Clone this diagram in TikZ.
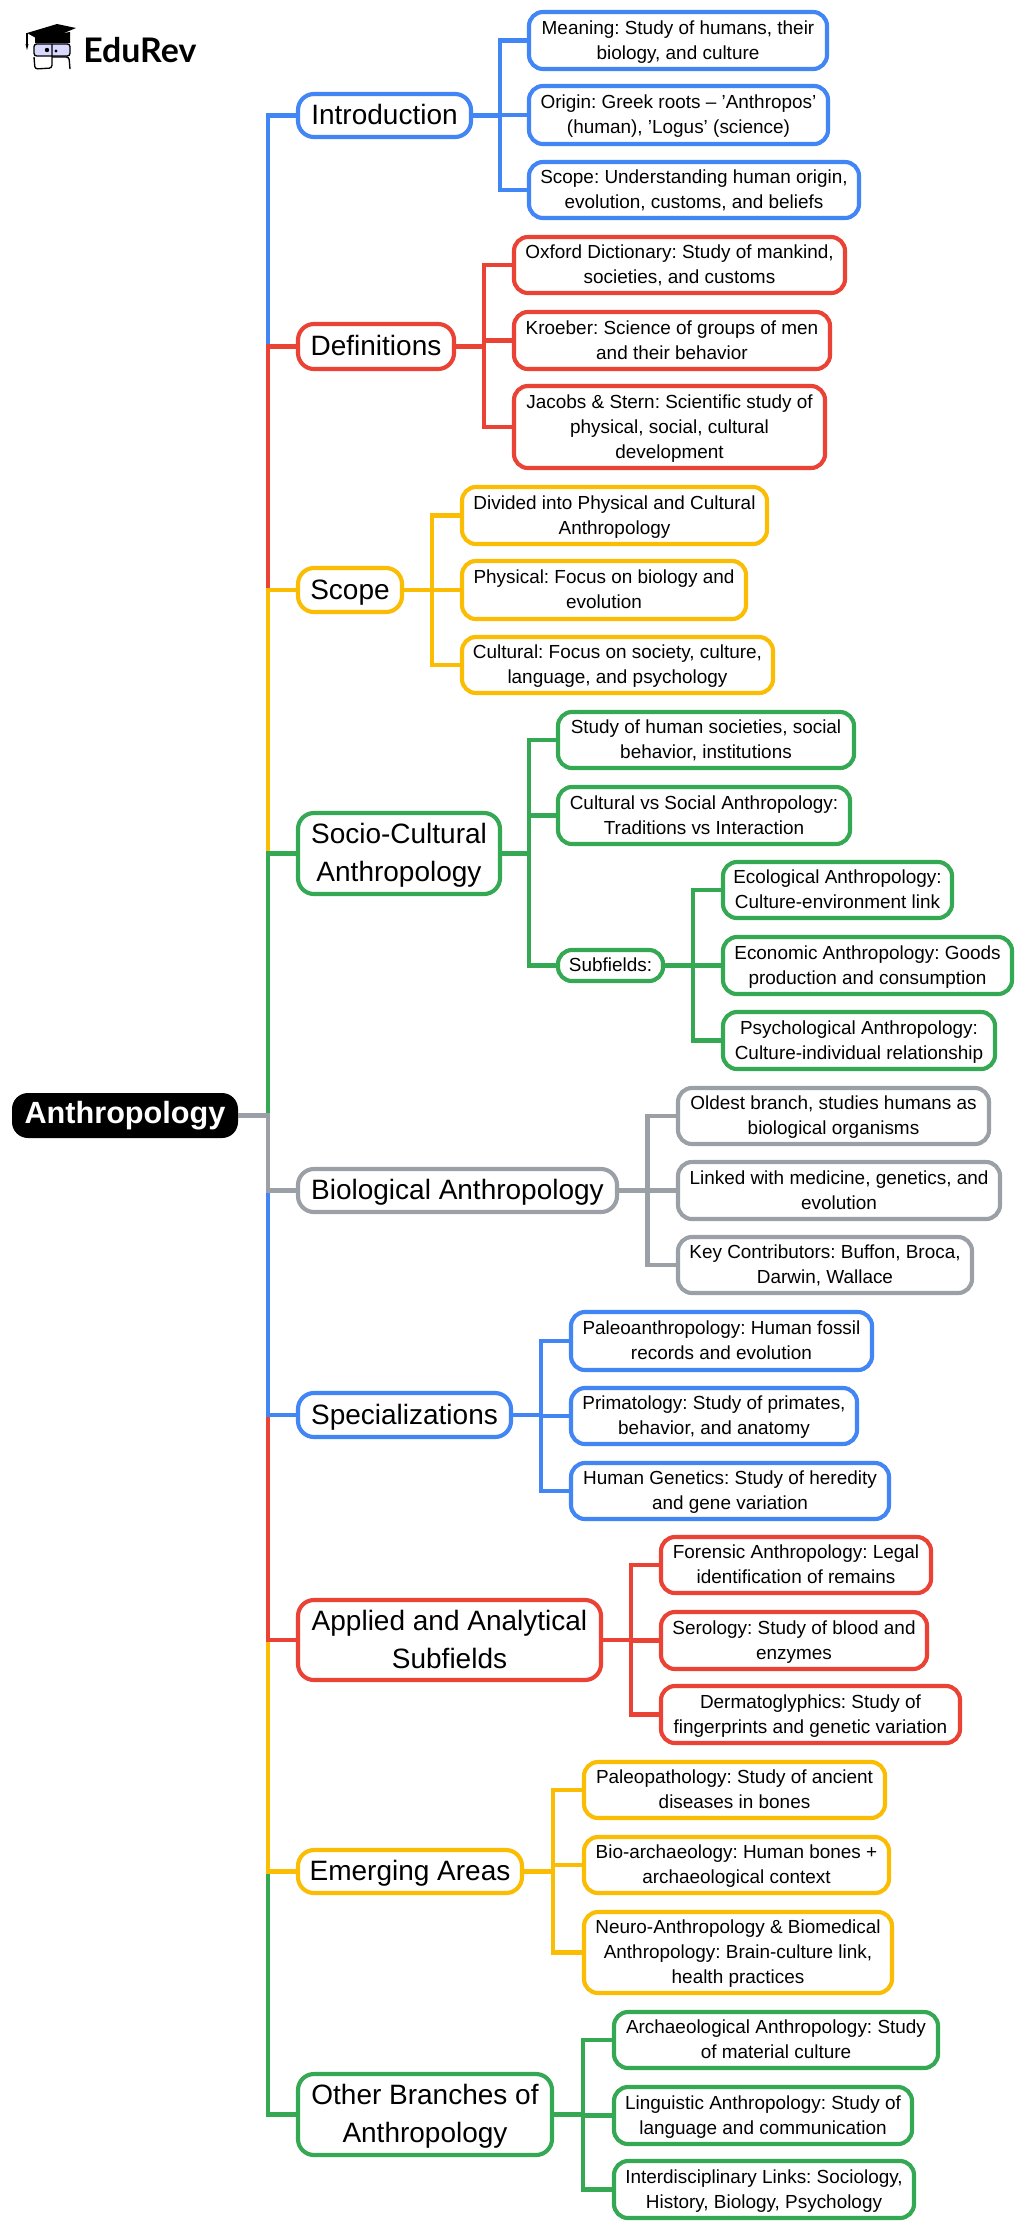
\documentclass[tikz,border=0pt]{standalone}
\usepackage{fontspec}
\setmainfont{Liberation Sans}
\newfontfamily\logofont{Lato}
\usetikzlibrary{calc}
\definecolor{cblue}{HTML}{4285F4}
\definecolor{cred}{HTML}{EA4335}
\definecolor{cyel}{HTML}{FBBC04}
\definecolor{cgrn}{HTML}{34A853}
\definecolor{cgry}{HTML}{9AA0A6}
\newcommand{\leaftop}{\rule{0pt}{0.87em}}
\newcommand{\leafbot}{\rule[-0.21em]{0pt}{0.21em}}
\newcommand{\maintop}{\rule{0pt}{0.86em}}
\newcommand{\mainbot}{\rule[-0.21em]{0pt}{0.21em}}
\tikzset{
  boxbase/.style={rounded corners=10.5pt,line width=3.1pt,fill=white,inner sep=0pt,outer sep=0pt,align=center,text=black},
  leaf/.style={boxbase,font=\fontsize{14.2}{18.75}\selectfont\frenchspacing},
  main/.style={boxbase,rounded corners=12pt,font=\fontsize{21}{28.5}\selectfont\frenchspacing},
  rootbox/.style={rounded corners=12pt,fill=black,text=white,inner sep=0pt,outer sep=0pt,font=\fontsize{23}{27}\selectfont\bfseries},
  conn/.style={line width=3.4pt,line join=miter}
}
% \nd{style}{colour}{name}{x1}{x2}{y1}{y2}{text}, all in reference pixels
\newcommand{\nd}[8]{%
  \pgfmathsetmacro{\wdd}{(#5-#4-2)*0.75}%
  \pgfmathsetmacro{\htt}{(#7-#6-2)*0.75}%
  \node[#1,draw=#2,minimum width=\wdd pt,minimum height=\htt pt] (#3) at ({(#4+#5)/2},{-(#6+#7)/2}) {\csname #1top\endcsname #8\csname #1bot\endcsname};}
\newcommand{\branch}[3]{%
  \draw[conn,#3] (#1.east) -- ($(#1.east)!0.5!(#1.east -| #2.west)$) |- (#2.west);}
\begin{document}
\begin{tikzpicture}[x=0.75pt,y=0.75pt]
\useasboundingbox (0,0) rectangle (1024,-2231);
\fill[white] (0,0) rectangle (1024,-2231);

% logo
\fill[black] (27,-33) -- (57,-24) -- (76,-28) -- (52,-38) -- (36,-38) -- cycle;
\fill[black] (35,-37) -- (70,-32) -- (70,-43) -- (35,-43) -- cycle;
\draw[black,line width=0.8pt] (27,-33) -- (27,-46);
\fill[black] (25.5,-44) -- (28.5,-44) -- (27,-50) -- cycle;
\draw[black,line width=1pt,fill=blue!15,rounded corners=2pt] (34,-44) rectangle (70,-56);
\draw[black,line width=1pt,rounded corners=2pt] (34,-57) -- (35,-69) -- (52,-68) -- (52,-44);
\draw[black,line width=1pt,rounded corners=2pt] (52,-57) -- (69,-57) -- (70,-69);
\fill[black] (47,-50) circle (2.2) (56,-51) circle (1.6);
\node[inner sep=0pt,anchor=base west,font=\logofont\fontsize{25.4}{25.4}\selectfont\bfseries] (logotext) at (83,-62) {EduRev};

% root
\node[rootbox,minimum width=169.5pt,minimum height=33.75pt] (root) at (125,-1115.5) {Anthropology};

% level 1
\nd{main}{cblue}{intro}{297}{472}{93}{138}{Introduction}
\nd{main}{cred}{defs}{297}{455}{323}{370}{Definitions}
\nd{main}{cyel}{scope}{297}{403}{567}{613}{Scope}
\nd{main}{cgrn}{socio}{297}{501}{812}{895}{Socio-Cultural\\Anthropology}
\nd{main}{cgry}{bio}{297}{618}{1168}{1213}{Biological Anthropology}
\nd{main}{cblue}{spec}{297}{512}{1392}{1438}{Specializations}
\nd{main}{cred}{appl}{297}{602}{1599}{1681}{Applied and Analytical\\Subfields}
\nd{main}{cyel}{emer}{297}{523}{1849}{1894}{Emerging Areas}
\nd{main}{cgrn}{other}{297}{553}{2073}{2156}{Other Branches of\\Anthropology}

% leaves
\nd{leaf}{cblue}{i1}{528}{828}{11}{70}{Meaning: Study of humans, their\\biology, and culture}
\nd{leaf}{cblue}{i2}{528}{829}{85}{145}{Origin: Greek roots – 'Anthropos'\\(human), 'Logus' (science)}
\nd{leaf}{cblue}{i3}{528}{860}{161}{219}{Scope: Understanding human origin,\\evolution, customs, and beliefs}

\nd{leaf}{cred}{d1}{513}{846}{236}{294}{Oxford Dictionary: Study of mankind,\\societies, and customs}
\nd{leaf}{cred}{d2}{513}{831}{311}{370}{Kroeber: Science of groups of men\\and their behavior}
\nd{leaf}{cred}{d3}{513}{826}{385}{469}{Jacobs \& Stern: Scientific study of\\physical, social, cultural\\development}

\nd{leaf}{cyel}{s1}{461}{768}{486}{545}{Divided into Physical and Cultural\\Anthropology}
\nd{leaf}{cyel}{s2}{461}{747}{560}{620}{Physical: Focus on biology and\\evolution}
\nd{leaf}{cyel}{s3}{461}{774}{636}{694}{Cultural: Focus on society, culture,\\language, and psychology}

\nd{leaf}{cgrn}{c1}{557}{855}{711}{769}{Study of human societies, social\\behavior, institutions}
\nd{leaf}{cgrn}{c2}{557}{851}{786}{845}{Cultural vs Social Anthropology:\\Traditions vs Interaction}
\nd{leaf}{cgrn}{c3}{557}{664}{949}{982}{Subfields:}
\nd{leaf}{cgrn}{f1}{722}{953}{861}{919}{Ecological Anthropology:\\Culture-environment link}
\nd{leaf}{cgrn}{f2}{722}{1013}{936}{995}{Economic Anthropology: Goods\\production and consumption}
\nd{leaf}{cgrn}{f3}{722}{996}{1011}{1070}{Psychological Anthropology:\\Culture-individual relationship}

\nd{leaf}{cgry}{b1}{677}{990}{1087}{1145}{Oldest branch, studies humans as\\biological organisms}
\nd{leaf}{cgry}{b2}{677}{1001}{1161}{1220}{Linked with medicine, genetics, and\\evolution}
\nd{leaf}{cgry}{b3}{677}{973}{1236}{1294}{Key Contributors: Buffon, Broca,\\Darwin, Wallace}

\nd{leaf}{cblue}{p1}{570}{873}{1311}{1371}{Paleoanthropology: Human fossil\\records and evolution}
\nd{leaf}{cblue}{p2}{570}{858}{1387}{1445}{Primatology: Study of primates,\\behavior, and anatomy}
\nd{leaf}{cblue}{p3}{570}{890}{1462}{1520}{Human Genetics: Study of heredity\\and gene variation}

\nd{leaf}{cred}{a1}{660}{932}{1536}{1594}{Forensic Anthropology: Legal\\identification of remains}
\nd{leaf}{cred}{a2}{660}{928}{1611}{1670}{Serology: Study of blood and\\enzymes}
\nd{leaf}{cred}{a3}{660}{961}{1685}{1744}{Dermatoglyphics: Study of\\fingerprints and genetic variation}

\nd{leaf}{cyel}{e1}{583}{886}{1761}{1819}{Paleopathology: Study of ancient\\diseases in bones}
\nd{leaf}{cyel}{e2}{583}{890}{1836}{1894}{Bio-archaeology: Human bones +\\archaeological context}
\nd{leaf}{cyel}{e3}{583}{893}{1911}{1994}{Neuro-Anthropology \& Biomedical\\Anthropology: Brain-culture link,\\health practices}

\nd{leaf}{cgrn}{o1}{613}{939}{2011}{2069}{Archaeological Anthropology: Study\\of material culture}
\nd{leaf}{cgrn}{o2}{613}{913}{2086}{2145}{Linguistic Anthropology: Study of\\language and communication}
\nd{leaf}{cgrn}{o3}{613}{915}{2160}{2219}{Interdisciplinary Links: Sociology,\\History, Biology, Psychology}

% connectors: spine (outermost first so nearer colours overlay)
\branch{root}{intro}{cblue}
\branch{root}{defs}{cred}
\branch{root}{scope}{cyel}
\branch{root}{socio}{cgrn}
\branch{root}{other}{cgrn}
\branch{root}{emer}{cyel}
\branch{root}{appl}{cred}
\branch{root}{spec}{cblue}
\branch{root}{bio}{cgry}

\foreach \k in {i1,i2,i3} {\branch{intro}{\k}{cblue}}
\foreach \k in {d1,d2,d3} {\branch{defs}{\k}{cred}}
\foreach \k in {s1,s2,s3} {\branch{scope}{\k}{cyel}}
\foreach \k in {c1,c2,c3} {\branch{socio}{\k}{cgrn}}
\foreach \k in {f1,f2,f3} {\branch{c3}{\k}{cgrn}}
\foreach \k in {b1,b2,b3} {\branch{bio}{\k}{cgry}}
\foreach \k in {p1,p2,p3} {\branch{spec}{\k}{cblue}}
\foreach \k in {a1,a2,a3} {\branch{appl}{\k}{cred}}
\foreach \k in {e1,e2,e3} {\branch{emer}{\k}{cyel}}
\foreach \k in {o1,o2,o3} {\branch{other}{\k}{cgrn}}
\end{tikzpicture}
\end{document}
